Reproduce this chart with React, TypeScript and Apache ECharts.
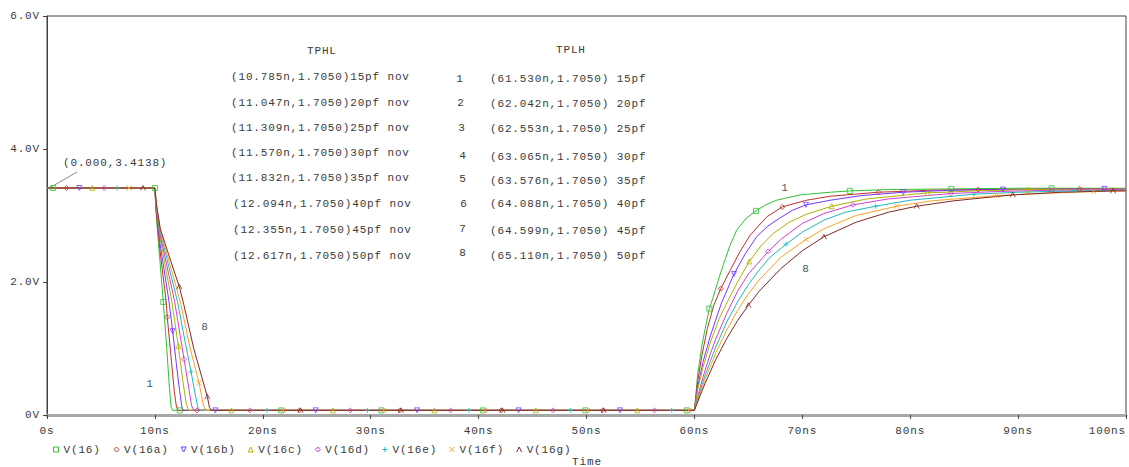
import React, { useEffect, useRef } from "react";
import * as echarts from "echarts";

const NAMES = ["V(16)", "V(16a)", "V(16b)", "V(16c)", "V(16d)", "V(16e)", "V(16f)", "V(16g)"];
const COLORS = ["#30c030", "#c03030", "#7038ff", "#b0b000", "#d040d0", "#20b8b8", "#ffa020", "#802828"];

const X_TICKS = [0, 10, 20, 30, 40, 50, 60, 70, 80, 90, 100];
const Y_TICKS = [0, 2, 4, 6];

// time (ns), voltage (V)
const v16 = [[0,3.414],[0.55,3.414],[10,3.414],[10.1,3.05],[10.4,2.45],[10.78,1.70],[11.1,1.0],[11.35,0.4],[11.5,0.12],[11.65,0.07],[12.3,0.07],[21.7,0.07],[31.0,0.07],[40.4,0.07],[49.9,0.07],[59.3,0.07],[60,0.07],[60.3,0.6],[60.7,1.05],[61.0,1.3],[61.38,1.6],[61.7,1.75],[62.2,2.02],[62.68,2.26],[63.3,2.55],[63.92,2.78],[64.8,2.96],[65.71,3.07],[66.6,3.16],[67.63,3.23],[69.8,3.31],[72.6,3.35],[74.4,3.37],[78,3.39],[83.8,3.40],[90,3.41],[93.1,3.41],[100,3.41]];
const v16a = [[0,3.414],[1.8,3.414],[10,3.414],[10.1,3.1],[10.45,2.5],[11.047,1.705],[11.15,1.47],[11.45,0.95],[11.8,0.35],[12.0,0.12],[12.15,0.07],[13.9,0.07],[23.4,0.07],[32.7,0.07],[42.1,0.07],[51.5,0.07],[60,0.07],[60.3,0.5],[60.7,0.9],[61.2,1.3],[61.8,1.65],[62.44,1.9],[63.3,2.17],[64.2,2.45],[65.15,2.7],[66.7,2.98],[68.15,3.13],[70.4,3.23],[72.6,3.29],[77.05,3.35],[82,3.38],[86.3,3.39],[95.7,3.40],[100,3.40]];
const v16b = [[0,3.414],[3.0,3.414],[10,3.414],[10.12,3.1],[10.5,2.55],[11.309,1.705],[11.65,1.26],[12.0,0.75],[12.3,0.35],[12.5,0.12],[12.65,0.07],[15.6,0.07],[24.9,0.07],[34.3,0.07],[43.7,0.07],[53.1,0.07],[60,0.07],[60.3,0.42],[60.8,0.8],[61.5,1.2],[62.5,1.68],[63.67,2.12],[64.7,2.42],[65.77,2.68],[66.8,2.84],[67.9,2.96],[69.1,3.08],[70.34,3.16],[72.6,3.23],[75.5,3.30],[79.36,3.35],[84,3.38],[88.6,3.39],[98,3.40],[100,3.40]];
const v16c = [[0,3.414],[4.2,3.414],[10,3.414],[10.12,3.12],[10.5,2.65],[11.57,1.705],[12.17,1.04],[12.6,0.5],[12.9,0.18],[13.1,0.07],[17.1,0.07],[26.5,0.07],[35.9,0.07],[45.3,0.07],[54.7,0.07],[60,0.07],[60.3,0.38],[60.8,0.72],[61.5,1.1],[62.3,1.45],[63.065,1.705],[64.0,2.0],[65.09,2.31],[66.2,2.55],[67.3,2.73],[68.8,2.9],[70.4,3.02],[72.72,3.14],[76,3.25],[81.6,3.34],[86,3.37],[90.9,3.39],[100,3.40]];
const v16d = [[0,3.414],[5.3,3.414],[10,3.414],[10.13,3.13],[10.5,2.7],[11.832,1.705],[12.7,0.84],[13.15,0.4],[13.4,0.14],[13.6,0.07],[18.8,0.07],[28.1,0.07],[37.4,0.07],[46.9,0.07],[56.3,0.07],[60,0.07],[60.5,0.4],[61,0.68],[61.5,0.93],[62,1.15],[63,1.53],[64,1.86],[65,2.12],[66.85,2.46],[68,2.64],[70,2.88],[72,3.03],[74.7,3.16],[78,3.25],[83.75,3.33],[88,3.36],[93.1,3.38],[100,3.39]];
const v16e = [[0,3.414],[6.5,3.414],[10,3.414],[10.14,3.14],[10.5,2.75],[12.094,1.705],[12.8,1.1],[13.35,0.65],[13.75,0.3],[14.0,0.1],[14.15,0.07],[20.4,0.07],[29.7,0.07],[39.1,0.07],[48.5,0.07],[57.9,0.07],[60,0.07],[60.5,0.35],[61,0.6],[61.5,0.82],[62,1.03],[63,1.40],[64,1.70],[65,1.96],[66,2.18],[67,2.37],[68.5,2.57],[70,2.75],[72,2.93],[74,3.05],[76.8,3.14],[80,3.23],[85.9,3.32],[90,3.35],[95.2,3.37],[100,3.38]];
const v16f = [[0,3.414],[7.6,3.414],[10,3.414],[10.15,3.15],[10.5,2.78],[12.355,1.705],[13.2,1.05],[14.09,0.48],[14.45,0.18],[14.65,0.07],[21.9,0.07],[31.2,0.07],[40.6,0.07],[50.1,0.07],[59.5,0.07],[60,0.07],[60.5,0.31],[61,0.54],[61.5,0.74],[62,0.94],[63,1.28],[64,1.57],[65,1.82],[66,2.03],[68,2.37],[70.34,2.64],[72,2.80],[75,3.00],[78.75,3.14],[82,3.22],[88,3.30],[92,3.33],[97,3.36],[100,3.37]];
const v16g = [[0,3.414],[8.9,3.414],[10,3.414],[10.15,3.16],[10.5,2.8],[11.5,2.3],[12.26,1.93],[12.617,1.705],[13.6,1.0],[14.86,0.275],[15.05,0.12],[15.2,0.07],[23.5,0.07],[32.8,0.07],[42.2,0.07],[51.6,0.07],[60,0.07],[60.5,0.28],[61,0.48],[61.5,0.66],[62,0.84],[63,1.15],[64,1.42],[65,1.65],[66,1.86],[68,2.2],[70,2.47],[72,2.68],[75,2.90],[78,3.05],[80.6,3.14],[84,3.22],[89.5,3.31],[94,3.35],[98.8,3.37],[100,3.37]];

// times at which the simulator drew a marker symbol
const mk16 = [0.55,10,10.78,12.3,21.7,31.0,40.4,49.9,59.3,61.38,65.71,74.4,83.8,93.1];
const mk16a = [1.8,11.15,13.9,23.4,32.7,42.1,51.5,62.44,68.15,77.05,86.3,95.7];
const mk16b = [3.0,11.65,15.6,24.9,34.3,43.7,53.1,63.67,70.34,79.36,88.6,98];
const mk16c = [4.2,12.17,17.1,26.5,35.9,45.3,54.7,65.09,72.72,81.6,90.9];
const mk16d = [5.3,12.7,18.8,28.1,37.4,46.9,56.3,66.85,74.7,83.75,93.1];
const mk16e = [6.5,13.35,20.4,29.7,39.1,48.5,57.9,68.5,76.8,85.9,95.2];
const mk16f = [7.6,14.09,21.9,31.2,40.6,50.1,59.5,70.34,78.75,88,97];
const mk16g = [8.9,12.26,14.86,23.5,32.8,42.2,51.6,65,72,80.6,89.5,98.8];

const TPHL = ["(10.785n,1.7050)15pf nov","(11.047n,1.7050)20pf nov","(11.309n,1.7050)25pf nov","(11.570n,1.7050)30pf nov","(11.832n,1.7050)35pf nov","(12.094n,1.7050)40pf nov","(12.355n,1.7050)45pf nov","(12.617n,1.7050)50pf nov"];
const TPLH = ["(61.530n,1.7050) 15pf","(62.042n,1.7050) 20pf","(62.553n,1.7050) 25pf","(63.065n,1.7050) 30pf","(63.576n,1.7050) 35pf","(64.088n,1.7050) 40pf","(64.599n,1.7050) 45pf","(65.110n,1.7050) 50pf"];
const ROW_NUMS = ["1","2","3","4","5","6","7","8"];

const DATA = [v16, v16a, v16b, v16c, v16d, v16e, v16f, v16g];
const MARKS = [mk16, mk16a, mk16b, mk16c, mk16d, mk16e, mk16f, mk16g];

const SYMBOLS = [
  "rect",
  "diamond",
  "path://M0,0L10,0L5,10Z",
  "triangle",
  "diamond",
  "path://M5,0L5,10M0,5L10,5",
  "path://M0,0L10,10M10,0L0,10",
  "path://M0,10L5,0L10,10",
];

const FONT = '"Liberation Mono", "DejaVu Sans Mono", monospace';
const TXT = "#3a3a3a";

export default function App() {
  const ref = useRef<HTMLDivElement>(null);
  useEffect(() => {
    if (!ref.current) return;
    const chart = echarts.init(ref.current, null, { renderer: "svg" });
    const series: any[] = [];
    DATA.forEach((d, i) => {
      series.push({
        name: NAMES[i],
        type: "line",
        data: d,
        showSymbol: false,
        symbol: "none",
        lineStyle: { width: 1, color: COLORS[i] },
        itemStyle: { color: COLORS[i] },
        z: 2,
      });
    });
    DATA.forEach((d, i) => {
      series.push({
        name: NAMES[i],
        type: "scatter",
        data: MARKS[i].map((t) => d.find((p) => p[0] === t)).filter(Boolean),
        symbol: SYMBOLS[i],
        symbolSize: 5,
        itemStyle: { color: "rgba(255,255,255,0)", borderColor: COLORS[i], borderWidth: 1 },
        z: 3,
      });
    });

    const textStyle = (text: string, x: number, y: number, align = "left", fill = TXT) => ({
      type: "text",
      x,
      y,
      silent: true,
      style: { text, fill, font: `11px ${FONT}`, textAlign: align, verticalAlign: "middle" },
    });

    const rowY = [76.7, 102.7, 127.7, 153.3, 178.3, 204, 230, 255.7];
    const rowX = [231, 231, 231, 231, 231, 233, 233, 233];
    const numY = [79.3, 102.7, 128.3, 156, 179.3, 204, 229.3, 252.7];
    const numX = [460, 461, 462, 463, 463, 464, 463, 463];
    const rY = [79.3, 104, 129.3, 156.7, 180.7, 204, 231.3, 256];

    const graphic: any[] = [
      textStyle("TPHL", 307, 50.5),
      textStyle("TPLH", 556, 50),
      textStyle("(0.000,3.4138)", 63, 163),
      {
        type: "line",
        silent: true,
        shape: { x1: 77, y1: 172, x2: 51, y2: 187 },
        style: { stroke: "#8a8a8a", lineWidth: 1 },
      },
      textStyle("1", 150, 384, "center", "#4c5666"),
      textStyle("8", 205, 327, "center", "#4c5666"),
      textStyle("1", 785, 188, "center", "#4c5666"),
      textStyle("8", 806, 269, "center", "#4c5666"),
      textStyle("Time", 587, 462, "center"),
    ];
    TPHL.forEach((s, i) => graphic.push(textStyle(s, rowX[i], rowY[i])));
    ROW_NUMS.forEach((s, i) => graphic.push(textStyle(s, numX[i], numY[i], "center")));
    TPLH.forEach((s, i) => graphic.push(textStyle(s, 490, rY[i])));

    chart.setOption({
      animation: false,
      backgroundColor: "#ffffff",
      textStyle: { fontFamily: FONT },
      grid: {
        left: 47,
        top: 16,
        width: 1079,
        height: 399,
        outerBoundsMode: "none",
        containLabel: false,
        show: true,
        borderColor: "#404040",
        borderWidth: 1,
      },
      legend: {
        left: 48,
        top: 439,
        itemWidth: 5,
        itemHeight: 5,
        itemGap: 17,
        textStyle: { color: TXT, fontFamily: FONT, fontSize: 11 },
        data: NAMES.map((n, i) => ({
          name: n,
          icon: SYMBOLS[i],
          itemStyle: { color: "rgba(255,255,255,0)", borderColor: COLORS[i], borderWidth: 1 },
        })),
      },
      xAxis: {
        type: "value",
        min: X_TICKS[0],
        max: X_TICKS[X_TICKS.length - 1],
        interval: 10,
        axisLine: { lineStyle: { color: "#a8a8a8", width: 3 } },
        axisTick: { length: 4, lineStyle: { color: "#404040" } },
        axisLabel: {
          color: TXT,
          fontFamily: FONT,
          fontSize: 11,
          margin: 10,
          alignMaxLabel: "right",
          formatter: (v: number) => (v === 0 ? "0s" : `${v}ns`),
        },
        splitLine: { show: false },
      },
      yAxis: {
        type: "value",
        min: Y_TICKS[0],
        max: Y_TICKS[Y_TICKS.length - 1],
        interval: 2,
        axisLine: { show: true, lineStyle: { color: "#404040" } },
        axisTick: { show: true, length: 4, lineStyle: { color: "#404040" } },
        axisLabel: {
          color: TXT,
          fontFamily: FONT,
          fontSize: 11,
          margin: 7,
          formatter: (v: number) => (v === 0 ? "0V" : `${v.toFixed(1)}V`),
        },
        splitLine: { show: false },
      },
      graphic,
      series,
    });
    return () => chart.dispose();
  }, []);
  return (
    <div
      ref={ref}
      style={{
        position: "absolute",
        left: 0,
        top: 0,
        width: 1129,
        height: 467,
        overflow: "hidden",
        letterSpacing: "0.85px",
        background: "#fff",
      }}
    />
  );
}
